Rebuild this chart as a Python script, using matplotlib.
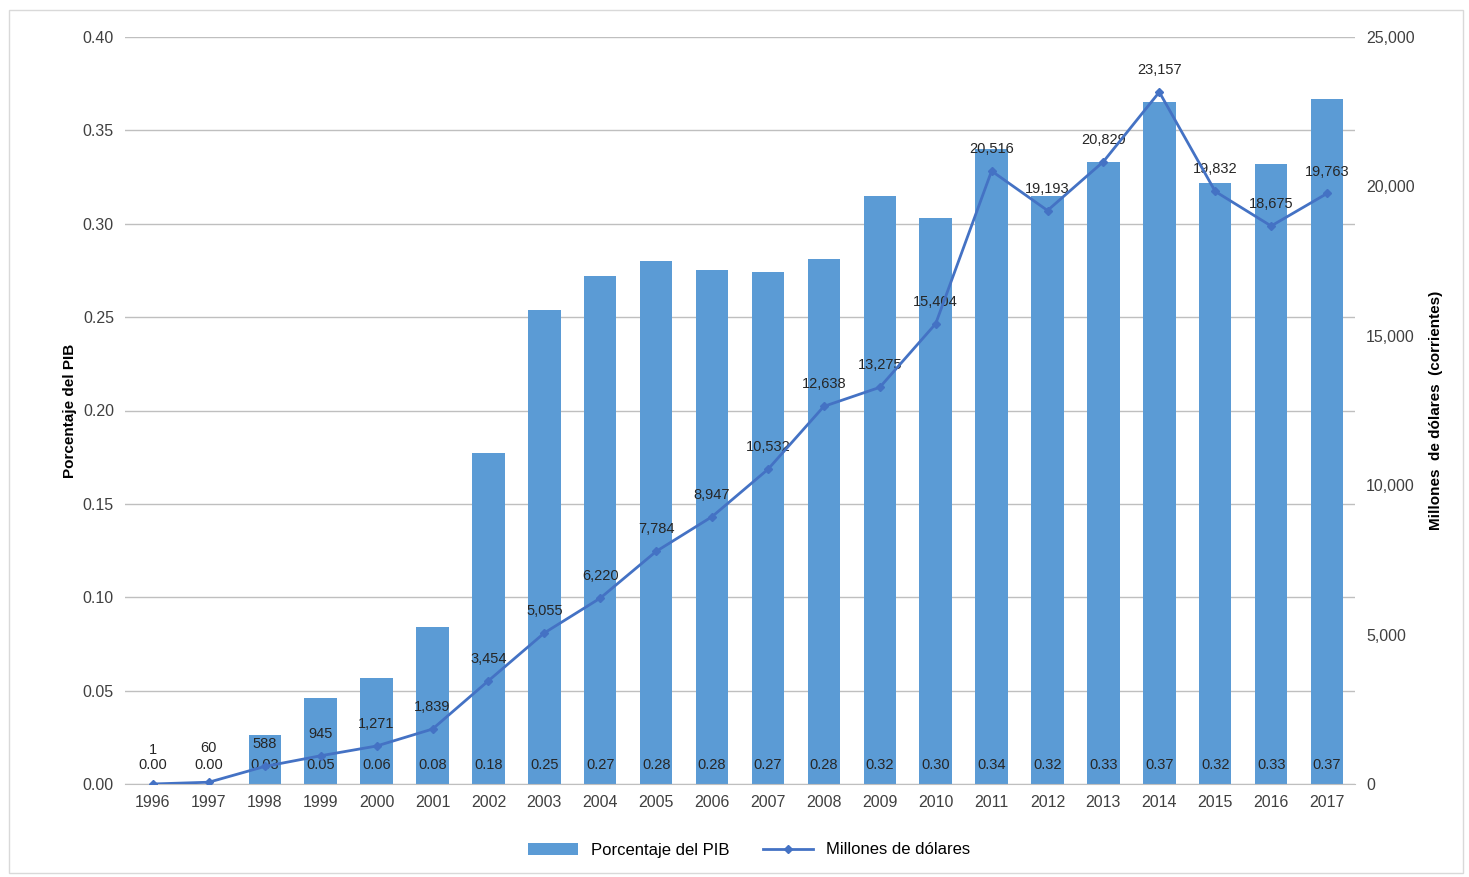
import numpy as np
import matplotlib
matplotlib.use('Agg')
import matplotlib.pyplot as plt
from matplotlib.ticker import FuncFormatter

matplotlib.rcParams['font.family'] = ['Liberation Sans', 'DejaVu Sans']

years = [str(y) for y in range(1996, 2018)]
pib = [0.0, 0.0, 0.026, 0.046, 0.057, 0.084, 0.177, 0.254, 0.272, 0.280, 0.275, 0.274,
       0.281, 0.315, 0.303, 0.340, 0.315, 0.333, 0.365, 0.322, 0.332, 0.367]
pib_lbl = ['0.00', '0.00', '0.03', '0.05', '0.06', '0.08', '0.18', '0.25', '0.27', '0.28', '0.28',
           '0.27', '0.28', '0.32', '0.30', '0.34', '0.32', '0.33', '0.37', '0.32', '0.33', '0.37']
musd = [1, 60, 588, 945, 1271, 1839, 3454, 5055, 6220, 7784, 8947, 10532, 12638, 13275,
        15404, 20516, 19193, 20829, 23157, 19832, 18675, 19763]

fig = plt.figure(figsize=(14.69, 8.77), dpi=100)
fig.patches.append(plt.Rectangle((0.006, 0.004), 0.99, 0.985, transform=fig.transFigure,
                                 fill=False, ec='#d9d9d9', lw=1))
ax = fig.add_axes([125/1469, 1-784/877, 1230/1469, 747/877])
x = np.arange(len(years))
ax.bar(x, pib, width=0.58, color='#5b9bd5', label='Porcentaje del PIB', zorder=2)
for xi, t in zip(x, pib_lbl):
    ax.text(xi, 0.010, t, ha='center', va='center', fontsize=10.5, color='#262626', zorder=5)
ax.set_ylim(0, 0.40)
ax.set_yticks(np.arange(0, 0.401, 0.05))
ax.yaxis.set_major_formatter(FuncFormatter(lambda v, p: f'{v:.2f}'))
ax.set_xlim(-0.5, len(years) - 0.5)
ax.set_xticks(x, years)
ax.grid(axis='y', color='#bfbfbf', lw=1, zorder=0)
ax.set_axisbelow(True)
ax.set_ylabel('Porcentaje del PIB', fontsize=11, fontweight='bold')
for s in ['top', 'right', 'left']:
    ax.spines[s].set_visible(False)
ax.spines['bottom'].set_color('#bfbfbf')
ax.tick_params(length=0, labelsize=11.5, colors='#404040', pad=8)

ax2 = ax.twinx()
ax2.plot(x, musd, color='#4472c4', lw=2, marker='D', ms=4, label='Millones de dólares', zorder=4)
for xi, v in zip(x, musd):
    off = 900 if v < 100 else 500
    ax2.text(xi, v + off, f'{v:,}', ha='center', va='bottom', fontsize=10.5, color='#262626')
ax2.set_ylim(0, 25000)
ax2.set_yticks(range(0, 25001, 5000))
ax2.yaxis.set_major_formatter(FuncFormatter(lambda v, p: f'{int(v):,}'))
ax2.set_ylabel('Millones  de dólares  (corrientes)', fontsize=11, fontweight='bold', labelpad=10)
for s in ax2.spines.values():
    s.set_visible(False)
ax2.tick_params(length=0, labelsize=11.5, colors='#404040', pad=8)

h1, l1 = ax.get_legend_handles_labels()
h2, l2 = ax2.get_legend_handles_labels()
fig.legend(h1 + h2, l1 + l2, loc='center', bbox_to_anchor=(0.51, 1-850/877), ncol=2,
           frameon=False, fontsize=12, handlelength=3, columnspacing=2)
plt.savefig('out.png', dpi=100)
